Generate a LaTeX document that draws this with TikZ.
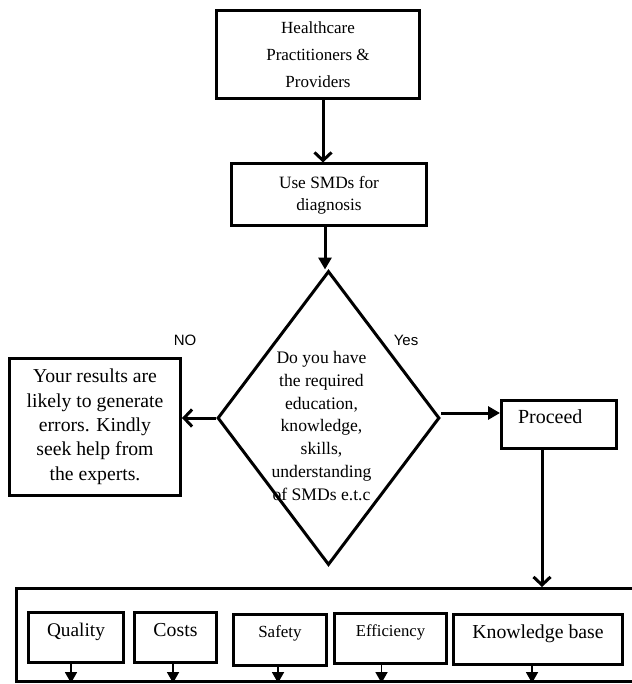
\documentclass[tikz,border=0pt]{standalone}
\usepackage{fontspec}
\setmainfont{Liberation Serif}
\newfontfamily\labelsf{Liberation Sans}
\usetikzlibrary{positioning,shapes,arrows,arrows.meta}
\def\lw{3pt}
\tikzstyle{block}=[draw,rectangle,line width=\lw,inner sep=0pt,align=center]
\tikzstyle{facet}=[block,line width=3.4pt,text depth=16pt,minimum height=50pt]
\tikzstyle{askshape}=[draw,diamond,line width=\lw,inner sep=0pt]
\tikzstyle{openarrow}=[-{Straight Barb[length=8pt,width=17pt]},line width=\lw]
\tikzstyle{triarrow}=[-{Triangle[length=12pt,width=13pt]},line width=\lw]
\newcommand{\newBox}[4]{\node[block,#3](#1) at (#4) {#2};}
\newcommand{\newLink}[3]{\draw[#3] #1 -- #2;}

\begin{document}
\begin{tikzpicture}[x=1pt,y=-1pt]
      \useasboundingbox (0,0) rectangle (631,684);
      \newBox{prov}{Healthcare\\Practitioners \&\\Providers}{minimum width=203pt,minimum height=88pt,font=\fontsize{17}{26.7}\selectfont}{318,54.7}
      \newBox{smd}{Use SMDs for\\diagnosis}{minimum width=195pt,minimum height=62pt,font=\fontsize{17.3}{21.7}\selectfont}{329,195}
      \node[askshape,minimum width=222pt,minimum height=294pt] (ask) at (328.5,418) {};
      \node[align=center,inner sep=0pt,font=\fontsize{17.6}{22.7}\selectfont] (askText) at (321.5,426)
        {Do you have\\the required\\education,\\knowledge,\\skills,\\understanding\\of SMDs e.t.c};
      \newBox{warn}{Your results are\\likely to generate\\errors. Kindly\\seek help from\\the experts.}{minimum width=171pt,minimum height=137pt,font=\fontsize{19.7}{24.3}\selectfont}{95,426.7}
      \newBox{go}{Proceed}{minimum width=115pt,minimum height=48pt,text width=82pt,align=left,text depth=14pt,font=\fontsize{20}{24}\selectfont}{559,424}
      \node[font=\labelsf\fontsize{15}{18}\selectfont] (no) at (185,340.7) {NO};
      \node[font=\labelsf\fontsize{15}{18}\selectfont] (yes) at (406,340.7) {Yes};
      % bottom frame with the five facets
      \newBox{frame}{}{minimum width=628.5pt,minimum height=93pt}{330.75,635}
      \node[facet,minimum width=95pt,font=\fontsize{19.3}{23}\selectfont] (qual) at (76,637.5) {Quality};
      \node[facet,minimum width=82pt,font=\fontsize{19.8}{23}\selectfont] (cost) at (175.5,637.5) {Costs};
      \node[facet,minimum width=93pt,minimum height=51pt,font=\fontsize{17}{20}\selectfont] (safe) at (280,640) {Safety};
      \node[facet,minimum width=112pt,font=\fontsize{16.7}{20}\selectfont] (effi) at (390.5,638.5) {Efficiency};
      \node[facet,minimum width=169pt,font=\fontsize{19.8}{23}\selectfont] (know) at (538,639.5) {Knowledge base};
      \newLink{([xshift=5pt]prov.south)}{([xshift=-6pt]smd.north)}{openarrow}
      \newLink{([xshift=-4pt]smd.south)}{([xshift=-3.5pt]ask.north)}{triarrow}
      \newLink{(ask.west)}{(ask.west -| warn.east)}{openarrow}
      \newLink{([yshift=5pt]ask.east)}{([yshift=5pt]ask.east -| go.west)}{triarrow}
      \newLink{([xshift=-17pt]go.south)}{([xshift=-17pt]go.south |- frame.north)}{openarrow}
      \foreach \b/\s in {qual/-5,cost/-2.5,safe/-2,effi/-9,know/-6}
        \draw[-{Triangle[length=11pt,width=12pt]},line width=1.8pt] ([xshift=\s pt]\b.south) -- ([xshift=\s pt]\b.south |- frame.south);
    \end{tikzpicture}
\end{document}
